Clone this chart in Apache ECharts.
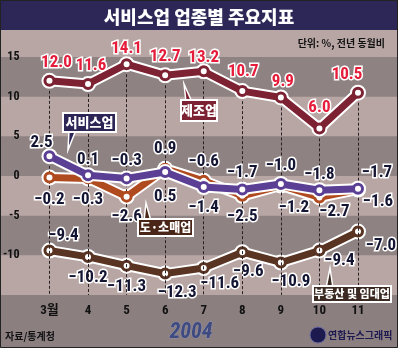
<!DOCTYPE html>
<html><head><meta charset="utf-8">
<script src="https://cdn.jsdelivr.net/npm/echarts@6/dist/echarts.min.js"></script>
<style>html,body{margin:0;padding:0;background:#b7a6a4}#c{width:398px;height:348px}</style>
</head><body><div id="c"></div>
<script>
// ---- data ----
const months = ['3월','4','5','6','7','8','9','10','11'];
const manufacturing = [12.0, 11.6, 14.1, 12.7, 13.2, 10.7, 9.9, 6.0, 10.5];
const services      = [2.5, 0.1, -0.3, 0.5, -1.4, -1.7, -1.0, -1.8, -1.6];
const retail        = [-0.2, -0.3, -2.6, 0.9, -0.6, -2.5, -1.2, -2.7, -1.7];
const realEstate    = [-9.4, -10.2, -11.3, -12.3, -11.6, -9.6, -10.9, -9.4, -7.0];
const yTicks = [-15, -10, -5, 0, 5, 10, 15];
const darkBands = [[15, 10], [5, 0], [-5, -10]];

// ---- label placement (pixels, style only) ----
const offManu = [[7,-18],[3,-18],[0,-15],[0,-18],[0,-14],[1,-19],[2,-16],[0,-21],[-11,-18]];
const offServ = [[-8,-13],[0,-15],[0,-18],[0,25],[0,21],[0,-17],[0,-18],[0,-16],[20,13]];
const offRet  = [[0,22],[0,21],[0,20],[0,-20],[0,-19],[0,21],[13,22],[15,14],[19,-17]];
const offReal = [[14,-15],[0,21],[0,21],[12,19],[16,16],[6,20],[10,19],[20,10],[23,14]];

const NUMFONT = '"Roboto Condensed","Noto Sans CJK KR",sans-serif';
const KFONT = '"Noto Sans CJK KR","Noto Sans",sans-serif';
const fmt = v => (v < 0 ? '\u2212' : '') + Math.abs(v).toFixed(1);

function lineSeries(name, values, color, labelColor, offsets, z) {
  return [
    { type:'line', name: name + '_halo', data: values, z: z, silent: true,
      symbol:'circle', symbolSize: 16, itemStyle:{color:'#ffffff'},
      lineStyle:{color:'#ffffff', width: 11}, label:{show:false}, animation:false },
    { type:'line', name: name, z: z + 1,
      data: values.map((v, i) => ({ value: v, label: { offset: offsets[i] } })),
      symbol:'circle', symbolSize: 9,
      itemStyle:{color:'#ffffff', borderColor: color, borderWidth: 3},
      lineStyle:{color: color, width: 7},
      label:{show:true, position:'inside', formatter: p => fmt(p.value),
        color: labelColor, fontFamily: NUMFONT, fontWeight:'bold', fontSize: 17,
        textBorderColor:'#ffffff', textBorderWidth: 3},
      animation:false }
  ];
}

const chart = echarts.init(document.getElementById('c'));
chart.setOption({
  animation: false,
  backgroundColor: '#b7a6a4',
  title: { text: '서비스업 업종별 주요지표', left: 'center', top: 3,
    textStyle: { color:'#ffffff', fontFamily: KFONT, fontWeight: 900, fontSize: 18 } },
  grid: { left: 48, right: 40, top: 57, bottom: 53 },
  xAxis: { type:'category', data: months, boundaryGap: false,
    axisLine:{show:false}, axisTick:{show:false}, splitLine:{show:false},
    axisLabel:{ color:'#111', fontFamily: NUMFONT, fontWeight:'bold', fontSize: 13, margin: 9 } },
  yAxis: { type:'value', min: yTicks[0], max: yTicks[yTicks.length-1], interval: 5,
    axisLine:{show:false}, axisTick:{show:false}, splitLine:{show:false},
    axisLabel:{ color:'#111', fontFamily: NUMFONT, fontWeight:'bold', fontSize: 12, margin: 30,
      formatter: v => (v === yTicks[0] ? '' : String(v)) } },
  series: [
    { type:'line', name:'guides', data: manufacturing, z: 1, silent: true, symbol:'none',
      lineStyle:{opacity:0}, label:{show:false},
      markLine:{ silent:true, symbol:'none', label:{show:false},
        lineStyle:{color:'#2a2022', type:[3,2], width:1},
        data: manufacturing.map((v, i) => [{coord:[months[i], v]}, {coord:[months[i], yTicks[0]]}]) } },
    ...lineSeries('부동산 및 임대업', realEstate, '#5a3422', '#141433', offReal, 2),
    ...lineSeries('도·소매업', retail, '#b04a1f', '#141433', offRet, 4),
    ...lineSeries('서비스업', services, '#5b3f94', '#141433', offServ, 6),
    ...lineSeries('제조업', manufacturing, '#7d2232', '#e51c3a', offManu, 8)
  ]
});

const py = v => chart.convertToPixel({yAxisIndex:0}, v);
const W = 398, H = 348;
const g = [];
darkBands.forEach(b => {
  const y1 = py(b[0]), y2 = py(b[1]);
  g.push({ type:'rect', z:-10, silent:true, shape:{x:0, y:y1, width:W, height:y2-y1}, style:{fill:'#8e8282'} });
});
const yb = py(yTicks[0]);
g.push({ type:'rect', z:-10, silent:true, shape:{x:0, y:yb, width:W, height:H-yb}, style:{fill:'#8b7f80'} });
// title bar
g.push({ type:'rect', z:-5, silent:true, shape:{x:0, y:0, width:W, height:30}, style:{fill:'#2c2757'} });

function callout(text, x, y, w, h, fill, tip, base, fs) {
  g.push({ type:'polygon', z:20, silent:true, shape:{points:[base[0], tip, base[1]]},
    style:{fill: fill, stroke:'#ffffff', lineWidth:1.5} });
  g.push({ type:'rect', z:21, silent:true, shape:{x:x, y:y, width:w, height:h},
    style:{fill: fill, stroke:'#ffffff', lineWidth:2} });
  g.push({ type:'text', z:22, silent:true, x: x + w/2, y: y + h/2,
    style:{text: text, fill:'#ffffff', font:'900 ' + fs + 'px "Noto Sans CJK KR",sans-serif',
      textAlign:'center', textVerticalAlign:'middle'} });
}
callout('제조업', 181, 100, 36, 21, '#7d2232', [184, 84], [[186, 102], [192, 102]], 13);
callout('서비스업', 63, 113, 53, 19, '#2e2557', [68, 150], [[69, 130], [76, 130]], 13);
callout('도·소매업', 138, 219, 55, 17, '#4a2618', [146, 203], [[144, 221], [151, 221]], 12);
callout('부동산 및 임대업', 313, 286, 78, 16, '#3a2a22', [330, 268], [[326, 288], [333, 288]], 11);

g.push({ type:'text', z:22, silent:true, x: 385, y: 43,
  style:{text:'단위: %, 전년 동월비', fill:'#111', font:'bold 10px "Noto Sans CJK KR",sans-serif',
    textAlign:'right', textVerticalAlign:'middle'} });
g.push({ type:'text', z:22, silent:true, x: 5, y: 336,
  style:{text:'자료/통계청', fill:'#111', font:'bold 10px "Noto Sans CJK KR",sans-serif',
    textAlign:'left', textVerticalAlign:'middle'} });
g.push({ type:'text', z:22, silent:true, x: 191, y: 332,
  style:{text:'2004', fill:'#3e4a80', font:'italic bold 22px "Roboto Condensed",sans-serif',
    textAlign:'center', textVerticalAlign:'middle', stroke:'#9aa0c0', lineWidth:0.6} });
g.push({ type:'circle', z:22, silent:true, shape:{cx:318, cy:335, r:8}, style:{fill:'#1d1a50', stroke:'#6a6aa0', lineWidth:1} });
g.push({ type:'text', z:22, silent:true, x: 328, y: 335,
  style:{text:'연합뉴스그래픽', fill:'#1d1a50', font:'bold 10px "Noto Sans CJK KR",sans-serif',
    textAlign:'left', textVerticalAlign:'middle'} });
// frame
g.push({ type:'rect', z:30, silent:true, shape:{x:0.5, y:0.5, width:W-1, height:H-1}, style:{fill:'none', stroke:'#222', lineWidth:1} });

chart.setOption({ graphic: { elements: g } });
</script>
</body></html>
